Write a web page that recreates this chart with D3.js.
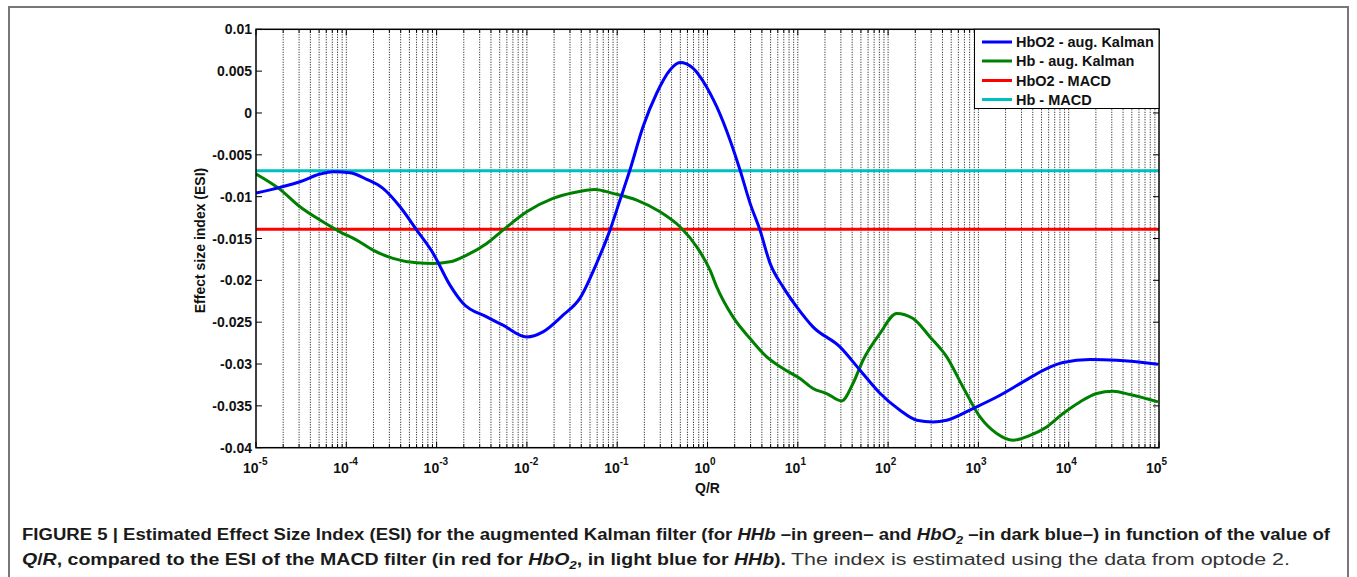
<!DOCTYPE html>
<html>
<head>
<meta charset="utf-8">
<script src="https://cdn.jsdelivr.net/npm/d3@7/dist/d3.min.js"></script>
<style>
  html, body { margin: 0; padding: 0; background: #fff; }
  svg { display: block; }
  text { font-family: "Liberation Sans", Arial, Helvetica, sans-serif; }
</style>
</head>
<body>
<svg id="chart" width="1357" height="577"></svg>
<script>
// ---------------- data ----------------
// log10(Q/R) sample positions and ESI values
const blueExp = [-5.000,-4.734,-4.513,-4.291,-4.147,-3.959,-3.774,-3.594,-3.405,-3.220,-3.040,-2.852,-2.708,-2.445,-2.265,-2.002,-1.822,-1.600,-1.412,-1.227,-1.080,-0.969,-0.859,-0.714,-0.563,-0.415,-0.305,-0.161,-0.083,0.028,0.102,0.249,0.360,0.471,0.581,0.692,0.836,0.988,1.168,1.467,1.689,1.910,2.132,2.317,2.497,2.649,2.940,3.203,3.494,3.756,3.937,4.236,4.531,4.989];
const blueESI = [-0.00957,-0.00889,-0.00822,-0.00730,-0.00702,-0.00714,-0.00793,-0.00901,-0.01121,-0.01400,-0.01675,-0.02057,-0.02273,-0.02437,-0.02536,-0.02676,-0.02616,-0.02416,-0.02213,-0.01794,-0.01400,-0.01041,-0.00682,-0.00164,0.00236,0.00514,0.00602,0.00535,0.00434,0.00236,0.00075,-0.00323,-0.00682,-0.01077,-0.01400,-0.01794,-0.02078,-0.02317,-0.02556,-0.02795,-0.03074,-0.03349,-0.03553,-0.03672,-0.03693,-0.03672,-0.03532,-0.03394,-0.03214,-0.03054,-0.02982,-0.02946,-0.02955,-0.03002];

const greenExp = [-5.000,-4.734,-4.513,-4.291,-4.070,-3.885,-3.704,-3.483,-3.220,-3.040,-2.852,-2.667,-2.445,-2.265,-2.002,-1.711,-1.490,-1.246,-1.047,-0.784,-0.526,-0.305,-0.120,0.028,0.102,0.282,0.471,0.656,0.836,1.024,1.168,1.320,1.486,1.611,1.722,1.910,2.095,2.276,2.464,2.649,2.829,3.018,3.203,3.383,3.571,3.756,3.937,4.125,4.310,4.491,4.679,4.989];
const greenESI = [-0.00730,-0.00913,-0.01121,-0.01280,-0.01420,-0.01519,-0.01639,-0.01738,-0.01791,-0.01798,-0.01779,-0.01699,-0.01559,-0.01400,-0.01181,-0.01020,-0.00953,-0.00913,-0.00961,-0.01041,-0.01181,-0.01360,-0.01599,-0.01878,-0.02078,-0.02437,-0.02695,-0.02915,-0.03054,-0.03173,-0.03293,-0.03353,-0.03441,-0.03233,-0.02955,-0.02635,-0.02396,-0.02456,-0.02676,-0.02915,-0.03274,-0.03633,-0.03831,-0.03911,-0.03852,-0.03752,-0.03592,-0.03453,-0.03353,-0.03325,-0.03365,-0.03453];

const macdHbO2 = -0.0139;
const macdHb = -0.0069;

const seriesNames = ["HbO2 - aug. Kalman", "Hb - aug. Kalman", "HbO2 - MACD", "Hb - MACD"];
const seriesColors = ["#0000ff", "#008000", "#ff0000", "#00bfbf"];

const yTicks = [0.01, 0.005, 0, -0.005, -0.01, -0.015, -0.02, -0.025, -0.03, -0.035, -0.04];
const yTickLabels = ["0.01", "0.005", "0", "-0.005", "-0.01", "-0.015", "-0.02", "-0.025", "-0.03", "-0.035", "-0.04"];
const xDecades = [-5, -4, -3, -2, -1, 0, 1, 2, 3, 4, 5];

// ---------------- layout ----------------
const svg = d3.select("#chart");
const L = 256, T = 29.3, W = 903, H = 418.4;

const x = d3.scaleLog().domain([1e-5, 1e5]).range([L, L + W]);
const y = d3.scaleLinear().domain([-0.04, 0.01]).range([T + H, T]);

// outer frame
svg.append("path")
  .attr("d", `M9,600 L9,7 L1348,7 L1348,600`)
  .attr("fill", "none").attr("stroke", "#777").attr("stroke-width", 2);

// grid (vertical dotted, major + minor)
const isDecade = d => Math.abs(Math.log10(d) - Math.round(Math.log10(d))) < 1e-9;
const gridVals = [];
xDecades.forEach(e => {
  gridVals.push(Math.pow(10, e));
  if (e < 5) for (let k = 2; k <= 9; k++) gridVals.push(k * Math.pow(10, e));
});
const g = svg.append("g");
g.selectAll("line.grid").data(gridVals.filter(v => v > 1e-5 && v < 1e5)).join("line")
  .attr("class", "grid")
  .attr("x1", d => x(d)).attr("x2", d => x(d))
  .attr("y1", T).attr("y2", T + H)
  .attr("stroke", "#111").attr("stroke-width", 1)
  .attr("stroke-dasharray", "1,1.5");

// minor/major ticks along bottom and top
g.selectAll("line.tb").data(gridVals).join("line")
  .attr("x1", d => x(d)).attr("x2", d => x(d))
  .attr("y1", T + H).attr("y2", d => T + H - (isDecade(d) ? 6 : 3.5))
  .attr("stroke", "#000").attr("stroke-width", 1);
g.selectAll("line.tt").data(gridVals).join("line")
  .attr("x1", d => x(d)).attr("x2", d => x(d))
  .attr("y1", T).attr("y2", d => T + (isDecade(d) ? 6 : 3.5))
  .attr("stroke", "#000").attr("stroke-width", 1);

// y ticks left + right
g.selectAll("line.yl").data(yTicks).join("line")
  .attr("x1", L).attr("x2", L + 6).attr("y1", d => y(d)).attr("y2", d => y(d))
  .attr("stroke", "#000").attr("stroke-width", 1);
g.selectAll("line.yr").data(yTicks).join("line")
  .attr("x1", L + W).attr("x2", L + W - 6).attr("y1", d => y(d)).attr("y2", d => y(d))
  .attr("stroke", "#000").attr("stroke-width", 1);

// y tick labels
g.selectAll("text.yt").data(yTicks).join("text")
  .attr("x", L - 4).attr("y", (d) => y(d) + 5)
  .attr("text-anchor", "end")
  .attr("font-size", 14).attr("font-weight", "bold").attr("fill", "#111")
  .text((d, i) => yTickLabels[i]);

// x tick labels 10^e
const xl = g.selectAll("text.xt").data(xDecades).join("text")
  .attr("x", e => x(Math.pow(10, e)) - 13).attr("y", T + H + 25)
  .attr("font-size", 14).attr("font-weight", "bold").attr("fill", "#111");
xl.append("tspan").text("10");
xl.append("tspan").attr("dy", -8).attr("font-size", 10).text(e => e === 0 ? "0" : (e < 0 ? "-" + Math.abs(e) : String(e)));

// axis labels
svg.append("text").attr("x", x(1)).attr("y", T + H + 45)
  .attr("text-anchor", "middle").attr("font-size", 14).attr("font-weight", "bold").attr("fill", "#111")
  .text("Q/R");
svg.append("text").attr("transform", `translate(205,${T + H / 2 + 2}) rotate(-90)`)
  .attr("text-anchor", "middle").attr("font-size", 14).attr("font-weight", "bold").attr("fill", "#111")
  .text("Effect size index (ESI)");

// data lines
svg.append("clipPath").attr("id", "clip").append("rect")
  .attr("x", L).attr("y", T).attr("width", W).attr("height", H);
const lineGen = d3.line().x(d => x(Math.pow(10, d[0]))).y(d => y(d[1])).curve(d3.curveMonotoneX);
const plot = svg.append("g").attr("clip-path", "url(#clip)");

plot.append("line").attr("x1", x(1e-5)).attr("x2", x(1e5))
  .attr("y1", y(macdHbO2)).attr("y2", y(macdHbO2))
  .attr("stroke", seriesColors[2]).attr("stroke-width", 3);
plot.append("line").attr("x1", x(1e-5)).attr("x2", x(1e5))
  .attr("y1", y(macdHb)).attr("y2", y(macdHb))
  .attr("stroke", seriesColors[3]).attr("stroke-width", 3);
plot.append("path").datum(d3.zip(greenExp, greenESI)).attr("d", lineGen)
  .attr("fill", "none").attr("stroke", seriesColors[1]).attr("stroke-width", 3).attr("stroke-linejoin", "round");
plot.append("path").datum(d3.zip(blueExp, blueESI)).attr("d", lineGen)
  .attr("fill", "none").attr("stroke", seriesColors[0]).attr("stroke-width", 3).attr("stroke-linejoin", "round");

// axes box
svg.append("rect").attr("x", L).attr("y", T).attr("width", W).attr("height", H)
  .attr("fill", "none").attr("stroke", "#000").attr("stroke-width", 1.5);

// legend
const lg = svg.append("g");
lg.append("rect").attr("x", 974.5).attr("y", T).attr("width", L + W - 974.5).attr("height", 108.5 - T)
  .attr("fill", "#fff").attr("stroke", "#000").attr("stroke-width", 1);
const rowY = [42, 61, 80.5, 99.5];
seriesNames.forEach((n, i) => {
  lg.append("line").attr("x1", 982).attr("x2", 1012).attr("y1", rowY[i]).attr("y2", rowY[i])
    .attr("stroke", seriesColors[i]).attr("stroke-width", 3);
  lg.append("text").attr("x", 1016).attr("y", rowY[i] + 5)
    .attr("font-size", 14.5).attr("font-weight", "bold").attr("fill", "#111").text(n);
});

// caption
const c1 = svg.append("text").attr("x", 22).attr("y", 540)
  .attr("font-size", 16).attr("font-weight", "bold").attr("fill", "#1a1a1a")
  .attr("textLength", 1308).attr("lengthAdjust", "spacingAndGlyphs");
c1.append("tspan").text("FIGURE 5 | Estimated Effect Size Index (ESI) for the augmented Kalman filter (for ");
c1.append("tspan").attr("font-style", "italic").text("HHb");
c1.append("tspan").text(" \u2013in green\u2013 and ");
c1.append("tspan").attr("font-style", "italic").text("HbO");
c1.append("tspan").attr("font-style", "italic").attr("font-size", 11).attr("dy", 4).text("2");
c1.append("tspan").attr("dy", -4).text(" \u2013in dark blue\u2013) in function of the value of");

const c2 = svg.append("text").attr("x", 22).attr("y", 565)
  .attr("font-size", 16).attr("font-weight", "bold").attr("fill", "#1a1a1a")
  .attr("textLength", 764).attr("lengthAdjust", "spacingAndGlyphs");
c2.append("tspan").attr("font-style", "italic").text("Q");
c2.append("tspan").text("/");
c2.append("tspan").attr("font-style", "italic").text("R");
c2.append("tspan").text(", compared to the ESI of the MACD filter (in red for ");
c2.append("tspan").attr("font-style", "italic").text("HbO");
c2.append("tspan").attr("font-style", "italic").attr("font-size", 11).attr("dy", 4).text("2");
c2.append("tspan").attr("dy", -4).text(", in light blue for ");
c2.append("tspan").attr("font-style", "italic").text("HHb");
c2.append("tspan").text(").");

svg.append("text").attr("x", 791).attr("y", 565)
  .attr("font-size", 16).attr("fill", "#333")
  .attr("textLength", 499).attr("lengthAdjust", "spacingAndGlyphs")
  .text("The index is estimated using the data from optode 2.");
</script>
</body>
</html>
